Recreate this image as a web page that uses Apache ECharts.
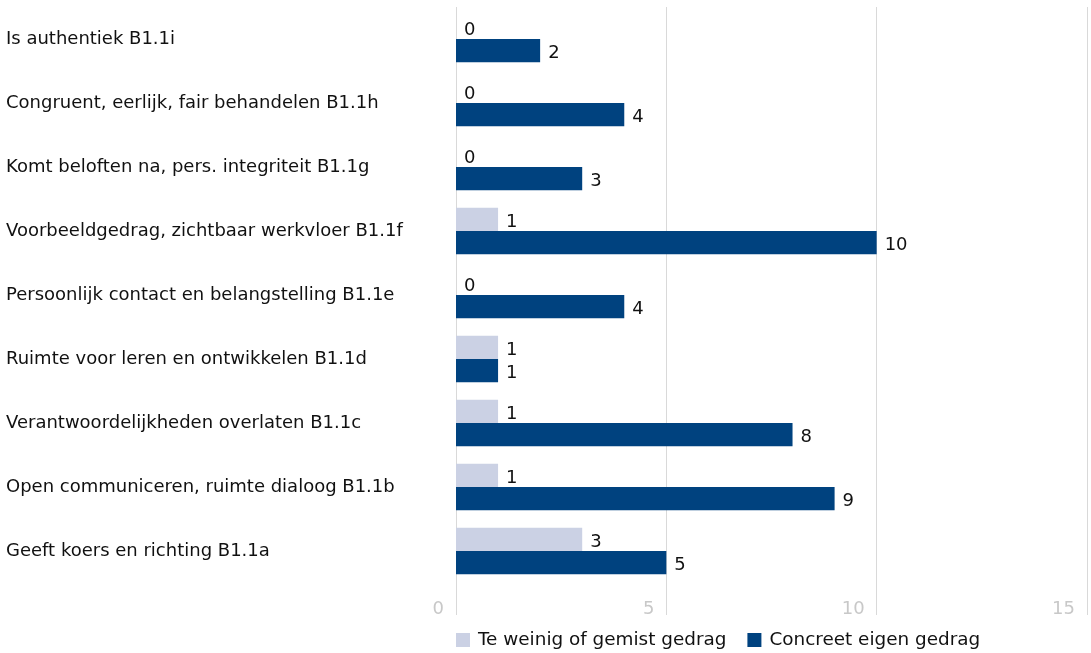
<!DOCTYPE html>
<html>
<head>
<meta charset="utf-8">
<script src="https://cdn.jsdelivr.net/npm/echarts@6/dist/echarts.min.js"></script>
<style>
  html, body { margin: 0; padding: 0; background: #ffffff; }
  #chart { width: 1091px; height: 653px; }
</style>
</head>
<body>
<div id="chart"></div>
<script>
// Leiderschapsgedrag per competentie
const categories = [
  'Is authentiek B1.1i',
  'Congruent, eerlijk, fair behandelen B1.1h',
  'Komt beloften na, pers. integriteit B1.1g',
  'Voorbeeldgedrag, zichtbaar werkvloer B1.1f',
  'Persoonlijk contact en belangstelling B1.1e',
  'Ruimte voor leren en ontwikkelen B1.1d',
  'Verantwoordelijkheden overlaten B1.1c',
  'Open communiceren, ruimte dialoog B1.1b',
  'Geeft koers en richting B1.1a'
];
const seriesNames = ['Te weinig of gemist gedrag', 'Concreet eigen gedrag'];
const teWeinig = [0, 0, 0, 1, 0, 1, 1, 1, 3];
const concreet = [2, 4, 3, 10, 4, 1, 8, 9, 5];
const xTicks = [0, 5, 10, 15];

const FONT = '"DejaVu Sans", "Noto Sans", sans-serif';
const TEXT = '#111111';
const GRID = '#d9d9d9';

const chart = echarts.init(document.getElementById('chart'), null, { renderer: 'canvas' });

const valueLabel = {
  show: true,
  position: 'right',
  distance: 8,
  offset: [0, 3],
  color: TEXT,
  fontFamily: FONT,
  fontSize: 18
};

chart.setOption({
  animation: false,
  backgroundColor: '#ffffff',
  textStyle: { fontFamily: FONT },
  grid: { left: 456, top: 7, width: 631, height: 576, containLabel: false },
  legend: {
    left: 456,
    top: 631,
    padding: 0,
    itemWidth: 14,
    itemHeight: 14,
    itemGap: 21,
    icon: 'rect',
    textStyle: { color: TEXT, fontSize: 18.4, fontFamily: FONT, padding: [0, 0, 0, 3] },
    data: seriesNames
  },
  xAxis: {
    type: 'value',
    min: xTicks[0],
    max: xTicks[xTicks.length - 1],
    interval: 5,
    axisLine: { show: false },
    axisTick: { show: true, length: 32, lineStyle: { color: GRID, width: 1 } },
    splitLine: { show: true, lineStyle: { color: GRID, width: 1 } },
    axisLabel: {
      color: '#c8c8c8',
      fontSize: 18,
      fontFamily: FONT,
      margin: 17,
      align: 'right',
      padding: [0, 12, 0, 0]
    }
  },
  yAxis: {
    type: 'category',
    inverse: true,
    data: categories,
    axisLine: { show: false },
    axisTick: { show: false },
    axisLabel: {
      color: TEXT,
      fontSize: 18,
      fontFamily: FONT,
      align: 'left',
      margin: 450,
      padding: [5, 0, 0, 0]
    }
  },
  series: [
    {
      name: seriesNames[0],
      type: 'bar',
      data: teWeinig,
      barGap: '0%',
      barCategoryGap: '27%',
      itemStyle: { color: '#cbd1e4' },
      label: valueLabel
    },
    {
      name: seriesNames[1],
      type: 'bar',
      data: concreet,
      barGap: '0%',
      barCategoryGap: '27%',
      itemStyle: { color: '#00427f' },
      label: valueLabel
    }
  ]
});
</script>
</body>
</html>
